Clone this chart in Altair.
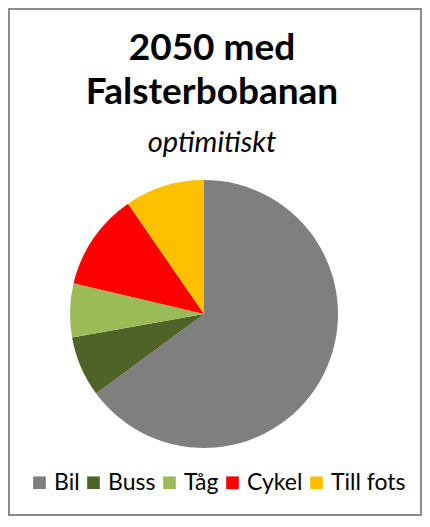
import altair as alt
import pandas as pd

MODES = ["Bil", "Buss", "Tåg", "Cykel", "Till fots"]
SHARES = [64.9, 7.3, 6.5, 11.7, 9.6]
COLORS = ["#7F7F7F", "#4F6228", "#9BBB59", "#FF0000", "#FFC000"]
TITLE_LINES = ["2050 med", "Falsterbobanan"]
SUBTITLE = "optimitiskt"

df = pd.DataFrame({"mode": MODES, "share": SHARES, "order": list(range(len(MODES)))})

pie = alt.Chart(df).mark_arc(outerRadius=134).encode(
    theta=alt.Theta("share:Q", stack=True),
    color=alt.Color(
        "mode:N",
        sort=MODES,
        scale=alt.Scale(domain=MODES, range=COLORS),
        legend=alt.Legend(
            title=None,
            orient="none",
            direction="horizontal",
            legendX=19,
            legendY=462,
            symbolType="square",
            symbolSize=160,
            symbolStrokeWidth=0,
            symbolOpacity=1,
            labelFont="Lato",
            labelFontSize=23,
            labelColor="#000000",
            labelOffset=3,
            columnPadding=2,
        ),
    ),
    order=alt.Order("order:Q"),
    x=alt.value(195),
    y=alt.value(305),
)

title_df = pd.DataFrame({"t": [TITLE_LINES[0]]})
title = alt.Chart(title_df).mark_text(
    text=TITLE_LINES,
    font="Lato",
    fontSize=37,
    fontWeight="bold",
    lineHeight=44,
    align="center",
    baseline="alphabetic",
    color="#000000",
).encode(x=alt.value(203), y=alt.value(51))

sub_df = pd.DataFrame({"t": [SUBTITLE]})
subtitle = alt.Chart(sub_df).mark_text(
    font="Lato",
    fontSize=29,
    fontStyle="italic",
    align="center",
    baseline="alphabetic",
    color="#000000",
).encode(text="t:N", x=alt.value(203), y=alt.value(143))

chart = alt.layer(pie, title, subtitle).properties(
    width=412,
    height=506,
    padding=1,
    autosize="none",
    background="#FFFFFF",
).configure_view(stroke="#8C8C8C", strokeWidth=2)

chart.save("out.html", embed_options={"renderer": "svg", "actions": False})
